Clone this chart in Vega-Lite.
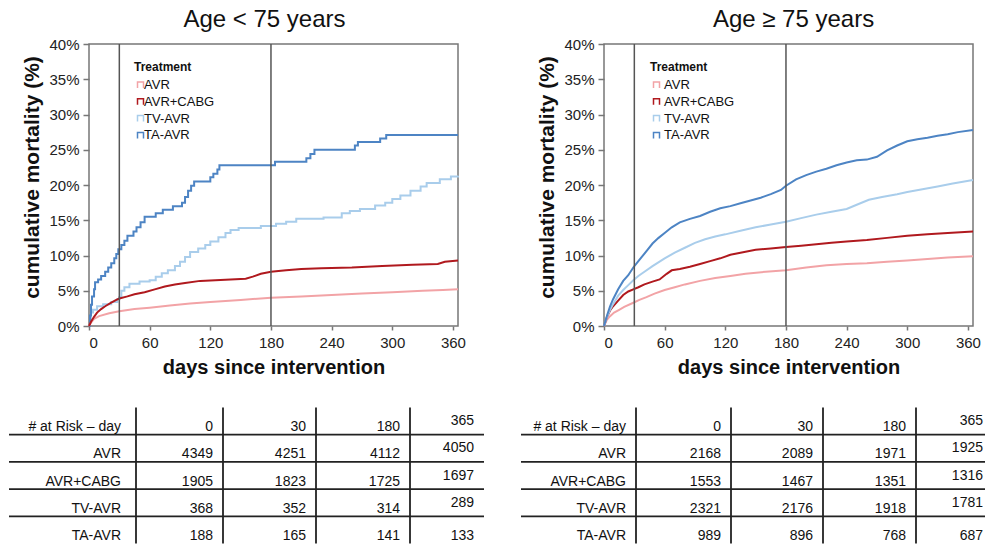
{
"$schema":"https://vega.github.io/schema/vega-lite/v6.json",
"padding":{"left":8,"top":6,"right":0,"bottom":0},
"background":"white",
"config":{
 "font":"Liberation Sans",
 "view":{"stroke":"#777","strokeWidth":1.5},
 "axis":{"grid":false,"domain":false,"labelOverlap":false,"labelFont":"Liberation Sans","labelFontSize":15,"labelColor":"#222","tickColor":"#777","tickWidth":1.5,"titleFont":"Liberation Sans","titleFontWeight":"bold","titleColor":"#111"},
 "title":{"font":"Liberation Sans","fontSize":24,"fontWeight":"normal","color":"#111","offset":5.5},
 "legend":{"labelFont":"Liberation Sans","titleFont":"Liberation Sans"},
 "text":{"font":"Liberation Sans"}
},
"datasets":{
 "refs":[{"day":30},{"day":180}],
 "kmL":[
  {"treatment":"AVR","day":0,"mortality":0},{"treatment":"AVR","day":2,"mortality":0.5},{"treatment":"AVR","day":5,"mortality":1.0},{"treatment":"AVR","day":10,"mortality":1.4},{"treatment":"AVR","day":20,"mortality":1.8},{"treatment":"AVR","day":30,"mortality":2.1},{"treatment":"AVR","day":45,"mortality":2.4},{"treatment":"AVR","day":60,"mortality":2.6},{"treatment":"AVR","day":80,"mortality":2.9},{"treatment":"AVR","day":100,"mortality":3.2},{"treatment":"AVR","day":120,"mortality":3.4},{"treatment":"AVR","day":150,"mortality":3.7},{"treatment":"AVR","day":180,"mortality":4.0},{"treatment":"AVR","day":210,"mortality":4.2},{"treatment":"AVR","day":240,"mortality":4.4},{"treatment":"AVR","day":270,"mortality":4.6},{"treatment":"AVR","day":300,"mortality":4.8},{"treatment":"AVR","day":330,"mortality":5.0},{"treatment":"AVR","day":350,"mortality":5.1},{"treatment":"AVR","day":365,"mortality":5.2},
  {"treatment":"AVR+CABG","day":0,"mortality":0},{"treatment":"AVR+CABG","day":2,"mortality":0.6},{"treatment":"AVR+CABG","day":5,"mortality":1.3},{"treatment":"AVR+CABG","day":8,"mortality":1.9},{"treatment":"AVR+CABG","day":12,"mortality":2.4},{"treatment":"AVR+CABG","day":16,"mortality":2.8},{"treatment":"AVR+CABG","day":22,"mortality":3.3},{"treatment":"AVR+CABG","day":27,"mortality":3.7},{"treatment":"AVR+CABG","day":30,"mortality":3.9},{"treatment":"AVR+CABG","day":38,"mortality":4.2},{"treatment":"AVR+CABG","day":45,"mortality":4.5},{"treatment":"AVR+CABG","day":55,"mortality":4.8},{"treatment":"AVR+CABG","day":65,"mortality":5.2},{"treatment":"AVR+CABG","day":75,"mortality":5.6},{"treatment":"AVR+CABG","day":85,"mortality":5.9},{"treatment":"AVR+CABG","day":95,"mortality":6.1},{"treatment":"AVR+CABG","day":110,"mortality":6.4},{"treatment":"AVR+CABG","day":125,"mortality":6.5},{"treatment":"AVR+CABG","day":140,"mortality":6.6},{"treatment":"AVR+CABG","day":155,"mortality":6.7},{"treatment":"AVR+CABG","day":162,"mortality":7.0},{"treatment":"AVR+CABG","day":170,"mortality":7.4},{"treatment":"AVR+CABG","day":180,"mortality":7.7},{"treatment":"AVR+CABG","day":195,"mortality":7.9},{"treatment":"AVR+CABG","day":210,"mortality":8.1},{"treatment":"AVR+CABG","day":230,"mortality":8.2},{"treatment":"AVR+CABG","day":260,"mortality":8.3},{"treatment":"AVR+CABG","day":290,"mortality":8.5},{"treatment":"AVR+CABG","day":320,"mortality":8.7},{"treatment":"AVR+CABG","day":345,"mortality":8.8},{"treatment":"AVR+CABG","day":352,"mortality":9.1},{"treatment":"AVR+CABG","day":365,"mortality":9.3},
  {"treatment":"TV-AVR","day":0,"mortality":0},{"treatment":"TV-AVR","day":1,"mortality":1.0},{"treatment":"TV-AVR","day":2,"mortality":1.9},{"treatment":"TV-AVR","day":4,"mortality":2.3},{"treatment":"TV-AVR","day":8,"mortality":2.8},{"treatment":"TV-AVR","day":14,"mortality":3.1},{"treatment":"TV-AVR","day":22,"mortality":3.4},{"treatment":"TV-AVR","day":28,"mortality":3.8},{"treatment":"TV-AVR","day":30,"mortality":4.1},{"treatment":"TV-AVR","day":32,"mortality":5.0},{"treatment":"TV-AVR","day":35,"mortality":5.5},{"treatment":"TV-AVR","day":40,"mortality":6.0},{"treatment":"TV-AVR","day":50,"mortality":6.3},{"treatment":"TV-AVR","day":60,"mortality":6.5},{"treatment":"TV-AVR","day":66,"mortality":7.0},{"treatment":"TV-AVR","day":72,"mortality":7.5},{"treatment":"TV-AVR","day":78,"mortality":7.9},{"treatment":"TV-AVR","day":85,"mortality":8.5},{"treatment":"TV-AVR","day":90,"mortality":9.1},{"treatment":"TV-AVR","day":95,"mortality":9.8},{"treatment":"TV-AVR","day":100,"mortality":10.5},{"treatment":"TV-AVR","day":108,"mortality":11.0},{"treatment":"TV-AVR","day":115,"mortality":11.5},{"treatment":"TV-AVR","day":120,"mortality":12.0},{"treatment":"TV-AVR","day":128,"mortality":12.6},{"treatment":"TV-AVR","day":135,"mortality":13.2},{"treatment":"TV-AVR","day":140,"mortality":13.6},{"treatment":"TV-AVR","day":148,"mortality":13.9},{"treatment":"TV-AVR","day":170,"mortality":14.2},{"treatment":"TV-AVR","day":185,"mortality":14.5},{"treatment":"TV-AVR","day":195,"mortality":14.8},{"treatment":"TV-AVR","day":205,"mortality":15.2},{"treatment":"TV-AVR","day":232,"mortality":15.4},{"treatment":"TV-AVR","day":250,"mortality":16.0},{"treatment":"TV-AVR","day":258,"mortality":16.3},{"treatment":"TV-AVR","day":268,"mortality":16.6},{"treatment":"TV-AVR","day":283,"mortality":17.1},{"treatment":"TV-AVR","day":293,"mortality":17.5},{"treatment":"TV-AVR","day":300,"mortality":18.0},{"treatment":"TV-AVR","day":308,"mortality":18.5},{"treatment":"TV-AVR","day":318,"mortality":19.2},{"treatment":"TV-AVR","day":328,"mortality":19.8},{"treatment":"TV-AVR","day":334,"mortality":20.3},{"treatment":"TV-AVR","day":347,"mortality":20.8},{"treatment":"TV-AVR","day":358,"mortality":21.2},{"treatment":"TV-AVR","day":365,"mortality":21.3},
  {"treatment":"TA-AVR","day":0,"mortality":0},{"treatment":"TA-AVR","day":1,"mortality":1.5},{"treatment":"TA-AVR","day":2,"mortality":3.0},{"treatment":"TA-AVR","day":3,"mortality":4.2},{"treatment":"TA-AVR","day":5,"mortality":5.2},{"treatment":"TA-AVR","day":6,"mortality":6.2},{"treatment":"TA-AVR","day":9,"mortality":6.6},{"treatment":"TA-AVR","day":12,"mortality":7.1},{"treatment":"TA-AVR","day":16,"mortality":7.7},{"treatment":"TA-AVR","day":19,"mortality":8.3},{"treatment":"TA-AVR","day":22,"mortality":8.9},{"treatment":"TA-AVR","day":25,"mortality":9.6},{"treatment":"TA-AVR","day":27,"mortality":10.2},{"treatment":"TA-AVR","day":29,"mortality":10.9},{"treatment":"TA-AVR","day":32,"mortality":11.5},{"treatment":"TA-AVR","day":35,"mortality":12.1},{"treatment":"TA-AVR","day":38,"mortality":12.8},{"treatment":"TA-AVR","day":44,"mortality":13.4},{"treatment":"TA-AVR","day":47,"mortality":14.0},{"treatment":"TA-AVR","day":51,"mortality":14.7},{"treatment":"TA-AVR","day":55,"mortality":15.5},{"treatment":"TA-AVR","day":66,"mortality":16.0},{"treatment":"TA-AVR","day":73,"mortality":16.5},{"treatment":"TA-AVR","day":83,"mortality":17.0},{"treatment":"TA-AVR","day":92,"mortality":17.5},{"treatment":"TA-AVR","day":95,"mortality":18.3},{"treatment":"TA-AVR","day":98,"mortality":19.2},{"treatment":"TA-AVR","day":101,"mortality":19.9},{"treatment":"TA-AVR","day":104,"mortality":20.5},{"treatment":"TA-AVR","day":120,"mortality":21.1},{"treatment":"TA-AVR","day":123,"mortality":21.6},{"treatment":"TA-AVR","day":127,"mortality":22.2},{"treatment":"TA-AVR","day":129,"mortality":22.8},{"treatment":"TA-AVR","day":184,"mortality":23.3},{"treatment":"TA-AVR","day":215,"mortality":23.8},{"treatment":"TA-AVR","day":219,"mortality":24.4},{"treatment":"TA-AVR","day":223,"mortality":25.0},{"treatment":"TA-AVR","day":263,"mortality":25.6},{"treatment":"TA-AVR","day":266,"mortality":26.1},{"treatment":"TA-AVR","day":288,"mortality":26.6},{"treatment":"TA-AVR","day":294,"mortality":27.1},{"treatment":"TA-AVR","day":365,"mortality":27.1}
 ],
 "kmR":[
  {"treatment":"AVR","day":0,"mortality":0},{"treatment":"AVR","day":3,"mortality":0.9},{"treatment":"AVR","day":6,"mortality":1.4},{"treatment":"AVR","day":10,"mortality":1.9},{"treatment":"AVR","day":15,"mortality":2.3},{"treatment":"AVR","day":20,"mortality":2.7},{"treatment":"AVR","day":29,"mortality":3.3},{"treatment":"AVR","day":35,"mortality":3.7},{"treatment":"AVR","day":42,"mortality":4.1},{"treatment":"AVR","day":50,"mortality":4.6},{"treatment":"AVR","day":60,"mortality":5.1},{"treatment":"AVR","day":70,"mortality":5.5},{"treatment":"AVR","day":80,"mortality":5.9},{"treatment":"AVR","day":95,"mortality":6.4},{"treatment":"AVR","day":110,"mortality":6.8},{"treatment":"AVR","day":125,"mortality":7.1},{"treatment":"AVR","day":140,"mortality":7.4},{"treatment":"AVR","day":160,"mortality":7.7},{"treatment":"AVR","day":180,"mortality":7.9},{"treatment":"AVR","day":200,"mortality":8.3},{"treatment":"AVR","day":220,"mortality":8.6},{"treatment":"AVR","day":240,"mortality":8.8},{"treatment":"AVR","day":260,"mortality":8.9},{"treatment":"AVR","day":280,"mortality":9.1},{"treatment":"AVR","day":300,"mortality":9.3},{"treatment":"AVR","day":320,"mortality":9.5},{"treatment":"AVR","day":340,"mortality":9.7},{"treatment":"AVR","day":365,"mortality":9.9},
  {"treatment":"AVR+CABG","day":0,"mortality":0},{"treatment":"AVR+CABG","day":3,"mortality":1.3},{"treatment":"AVR+CABG","day":6,"mortality":2.2},{"treatment":"AVR+CABG","day":9,"mortality":2.8},{"treatment":"AVR+CABG","day":14,"mortality":3.6},{"treatment":"AVR+CABG","day":19,"mortality":4.4},{"treatment":"AVR+CABG","day":24,"mortality":4.9},{"treatment":"AVR+CABG","day":29,"mortality":5.2},{"treatment":"AVR+CABG","day":34,"mortality":5.5},{"treatment":"AVR+CABG","day":40,"mortality":5.9},{"treatment":"AVR+CABG","day":48,"mortality":6.3},{"treatment":"AVR+CABG","day":55,"mortality":6.6},{"treatment":"AVR+CABG","day":62,"mortality":7.4},{"treatment":"AVR+CABG","day":67,"mortality":7.9},{"treatment":"AVR+CABG","day":75,"mortality":8.1},{"treatment":"AVR+CABG","day":85,"mortality":8.4},{"treatment":"AVR+CABG","day":95,"mortality":8.8},{"treatment":"AVR+CABG","day":105,"mortality":9.2},{"treatment":"AVR+CABG","day":115,"mortality":9.6},{"treatment":"AVR+CABG","day":125,"mortality":10.1},{"treatment":"AVR+CABG","day":135,"mortality":10.4},{"treatment":"AVR+CABG","day":150,"mortality":10.8},{"treatment":"AVR+CABG","day":165,"mortality":11.0},{"treatment":"AVR+CABG","day":180,"mortality":11.2},{"treatment":"AVR+CABG","day":195,"mortality":11.4},{"treatment":"AVR+CABG","day":210,"mortality":11.6},{"treatment":"AVR+CABG","day":225,"mortality":11.8},{"treatment":"AVR+CABG","day":240,"mortality":12.0},{"treatment":"AVR+CABG","day":260,"mortality":12.2},{"treatment":"AVR+CABG","day":280,"mortality":12.5},{"treatment":"AVR+CABG","day":300,"mortality":12.8},{"treatment":"AVR+CABG","day":320,"mortality":13.0},{"treatment":"AVR+CABG","day":340,"mortality":13.2},{"treatment":"AVR+CABG","day":365,"mortality":13.4},
  {"treatment":"TV-AVR","day":0,"mortality":0},{"treatment":"TV-AVR","day":3,"mortality":1.3},{"treatment":"TV-AVR","day":6,"mortality":2.3},{"treatment":"TV-AVR","day":9,"mortality":3.1},{"treatment":"TV-AVR","day":14,"mortality":4.3},{"treatment":"TV-AVR","day":19,"mortality":5.1},{"treatment":"TV-AVR","day":24,"mortality":5.8},{"treatment":"TV-AVR","day":29,"mortality":6.5},{"treatment":"TV-AVR","day":34,"mortality":7.1},{"treatment":"TV-AVR","day":40,"mortality":7.7},{"treatment":"TV-AVR","day":48,"mortality":8.5},{"treatment":"TV-AVR","day":60,"mortality":9.6},{"treatment":"TV-AVR","day":70,"mortality":10.4},{"treatment":"TV-AVR","day":80,"mortality":11.1},{"treatment":"TV-AVR","day":90,"mortality":11.8},{"treatment":"TV-AVR","day":100,"mortality":12.3},{"treatment":"TV-AVR","day":110,"mortality":12.7},{"treatment":"TV-AVR","day":120,"mortality":13.0},{"treatment":"TV-AVR","day":135,"mortality":13.5},{"treatment":"TV-AVR","day":150,"mortality":14.0},{"treatment":"TV-AVR","day":165,"mortality":14.4},{"treatment":"TV-AVR","day":180,"mortality":14.8},{"treatment":"TV-AVR","day":195,"mortality":15.3},{"treatment":"TV-AVR","day":210,"mortality":15.8},{"treatment":"TV-AVR","day":225,"mortality":16.2},{"treatment":"TV-AVR","day":240,"mortality":16.6},{"treatment":"TV-AVR","day":250,"mortality":17.2},{"treatment":"TV-AVR","day":262,"mortality":17.9},{"treatment":"TV-AVR","day":275,"mortality":18.3},{"treatment":"TV-AVR","day":290,"mortality":18.7},{"treatment":"TV-AVR","day":300,"mortality":19.0},{"treatment":"TV-AVR","day":315,"mortality":19.4},{"treatment":"TV-AVR","day":330,"mortality":19.8},{"treatment":"TV-AVR","day":345,"mortality":20.2},{"treatment":"TV-AVR","day":365,"mortality":20.7},
  {"treatment":"TA-AVR","day":0,"mortality":0},{"treatment":"TA-AVR","day":3,"mortality":1.5},{"treatment":"TA-AVR","day":6,"mortality":2.8},{"treatment":"TA-AVR","day":9,"mortality":3.8},{"treatment":"TA-AVR","day":14,"mortality":5.2},{"treatment":"TA-AVR","day":19,"mortality":6.4},{"treatment":"TA-AVR","day":24,"mortality":7.2},{"treatment":"TA-AVR","day":29,"mortality":8.3},{"treatment":"TA-AVR","day":34,"mortality":9.2},{"treatment":"TA-AVR","day":38,"mortality":9.9},{"treatment":"TA-AVR","day":43,"mortality":10.8},{"treatment":"TA-AVR","day":48,"mortality":11.7},{"treatment":"TA-AVR","day":54,"mortality":12.5},{"treatment":"TA-AVR","day":60,"mortality":13.2},{"treatment":"TA-AVR","day":67,"mortality":14.0},{"treatment":"TA-AVR","day":75,"mortality":14.7},{"treatment":"TA-AVR","day":85,"mortality":15.2},{"treatment":"TA-AVR","day":95,"mortality":15.6},{"treatment":"TA-AVR","day":105,"mortality":16.2},{"treatment":"TA-AVR","day":115,"mortality":16.7},{"treatment":"TA-AVR","day":125,"mortality":17.0},{"treatment":"TA-AVR","day":135,"mortality":17.4},{"treatment":"TA-AVR","day":145,"mortality":17.8},{"treatment":"TA-AVR","day":155,"mortality":18.2},{"treatment":"TA-AVR","day":165,"mortality":18.7},{"treatment":"TA-AVR","day":175,"mortality":19.3},{"treatment":"TA-AVR","day":180,"mortality":19.9},{"treatment":"TA-AVR","day":190,"mortality":20.8},{"treatment":"TA-AVR","day":200,"mortality":21.4},{"treatment":"TA-AVR","day":210,"mortality":21.9},{"treatment":"TA-AVR","day":220,"mortality":22.3},{"treatment":"TA-AVR","day":230,"mortality":22.8},{"treatment":"TA-AVR","day":240,"mortality":23.2},{"treatment":"TA-AVR","day":250,"mortality":23.5},{"treatment":"TA-AVR","day":260,"mortality":23.6},{"treatment":"TA-AVR","day":270,"mortality":24.0},{"treatment":"TA-AVR","day":280,"mortality":24.9},{"treatment":"TA-AVR","day":290,"mortality":25.6},{"treatment":"TA-AVR","day":300,"mortality":26.2},{"treatment":"TA-AVR","day":310,"mortality":26.5},{"treatment":"TA-AVR","day":320,"mortality":26.7},{"treatment":"TA-AVR","day":330,"mortality":27.0},{"treatment":"TA-AVR","day":340,"mortality":27.2},{"treatment":"TA-AVR","day":350,"mortality":27.5},{"treatment":"TA-AVR","day":365,"mortality":27.8}
 ],
 "tabL":[
  {"row":"# at Risk – day","day":0,"value":0},{"row":"# at Risk – day","day":30,"value":30},{"row":"# at Risk – day","day":180,"value":180},{"row":"# at Risk – day","day":365,"value":365},
  {"row":"AVR","day":0,"value":4349},{"row":"AVR","day":30,"value":4251},{"row":"AVR","day":180,"value":4112},{"row":"AVR","day":365,"value":4050},
  {"row":"AVR+CABG","day":0,"value":1905},{"row":"AVR+CABG","day":30,"value":1823},{"row":"AVR+CABG","day":180,"value":1725},{"row":"AVR+CABG","day":365,"value":1697},
  {"row":"TV-AVR","day":0,"value":368},{"row":"TV-AVR","day":30,"value":352},{"row":"TV-AVR","day":180,"value":314},{"row":"TV-AVR","day":365,"value":289},
  {"row":"TA-AVR","day":0,"value":188},{"row":"TA-AVR","day":30,"value":165},{"row":"TA-AVR","day":180,"value":141},{"row":"TA-AVR","day":365,"value":133}
 ],
 "tabR":[
  {"row":"# at Risk – day","day":0,"value":0},{"row":"# at Risk – day","day":30,"value":30},{"row":"# at Risk – day","day":180,"value":180},{"row":"# at Risk – day","day":365,"value":365},
  {"row":"AVR","day":0,"value":2168},{"row":"AVR","day":30,"value":2089},{"row":"AVR","day":180,"value":1971},{"row":"AVR","day":365,"value":1925},
  {"row":"AVR+CABG","day":0,"value":1553},{"row":"AVR+CABG","day":30,"value":1467},{"row":"AVR+CABG","day":180,"value":1351},{"row":"AVR+CABG","day":365,"value":1316},
  {"row":"TV-AVR","day":0,"value":2321},{"row":"TV-AVR","day":30,"value":2176},{"row":"TV-AVR","day":180,"value":1918},{"row":"TV-AVR","day":365,"value":1781},
  {"row":"TA-AVR","day":0,"value":989},{"row":"TA-AVR","day":30,"value":896},{"row":"TA-AVR","day":180,"value":768},{"row":"TA-AVR","day":365,"value":687}
 ]
},
"spacing":35,
"resolve":{"scale":{"color":"independent"},"legend":{"color":"independent"}},
"hconcat":[
 {"spacing":28.5,
  "resolve":{"scale":{"color":"independent"},"legend":{"color":"independent"}},
  "vconcat":[
  {"title":{"text":"Age < 75 years","dx":-9},
   "width":369,"height":282,
   "data":{"name":"kmL"},
   "layer":[
    {"transform":[{"filter":"datum.treatment == 'TV-AVR' || datum.treatment == 'TA-AVR'"}],
     "mark":{"type":"line","interpolate":"step-after","strokeWidth":2},
     "encoding":{
      "x":{"field":"day","type":"quantitative","scale":{"domain":[0,365],"nice":false},"axis":{"values":[0,60,120,180,240,300,360],"title":"days since intervention","titleFontSize":20,"tickSize":4,"labelPadding":5,"titlePadding":7}},
      "y":{"field":"mortality","type":"quantitative","scale":{"domain":[0,40],"nice":false},"axis":{"values":[0,5,10,15,20,25,30,35,40],"labelExpr":"datum.value + '%'","title":"cumulative mortality (%)","titleFontSize":21,"tickSize":6,"labelPadding":4,"titlePadding":6,"titleY":133}},
      "color":{"field":"treatment","type":"nominal","scale":{"domain":["AVR","AVR+CABG","TV-AVR","TA-AVR"],"range":["#f2a3a6","#b0191e","#a9cdeb","#4d84c4"]},
       "legend":{"title":"Treatment","orient":"none","legendX":45,"legendY":17.5,"titleFontSize":12,"titleFontWeight":"bold","titleColor":"#111","labelFontSize":13,"labelColor":"#111","symbolType":"M-1,1V-1H1V1","symbolSize":36,"symbolStrokeWidth":1.5,"symbolFillColor":"transparent","labelOffset":-3,"rowPadding":2.8,"titlePadding":5,"padding":0}}
     }},
    {"transform":[{"filter":"datum.treatment == 'AVR' || datum.treatment == 'AVR+CABG'"}],
     "mark":{"type":"line","interpolate":"linear","strokeWidth":2},
     "encoding":{
      "x":{"field":"day","type":"quantitative","axis":{"values":[0,60,120,180,240,300,360],"title":"days since intervention","titleFontSize":20,"tickSize":4,"labelPadding":5,"titlePadding":7}},
      "y":{"field":"mortality","type":"quantitative","axis":{"values":[0,5,10,15,20,25,30,35,40],"labelExpr":"datum.value + '%'","title":"cumulative mortality (%)","titleFontSize":21,"tickSize":6,"labelPadding":4,"titlePadding":6,"titleY":133}},
      "color":{"field":"treatment","type":"nominal"}
     }},
    {"data":{"name":"refs"},"mark":{"type":"rule","color":"#555","strokeWidth":1.5},"encoding":{"x":{"field":"day","type":"quantitative"}}}
   ]},
  {"width":395,"height":136,
   "view":{"stroke":null},
   "data":{"name":"tabL"},
   "layer":[
    {"transform":[{"filter":"datum.day != 365 || datum.row == 'TA-AVR'"}],
     "mark":{"type":"text","align":"right","baseline":"middle","dx":-10,"dy":6,"fontSize":14,"color":"#111"},
     "encoding":{
      "x":{"field":"day","type":"quantitative","scale":{"domain":[0,30,180,365],"range":[134,227,321,395],"nice":false,"zero":false},"axis":null},
      "y":{"field":"row","type":"nominal","scale":{"domain":["# at Risk – day","AVR","AVR+CABG","TV-AVR","TA-AVR"],"paddingInner":0,"paddingOuter":0},"axis":null},
      "text":{"field":"value","type":"quantitative","format":"d"}}},
    {"transform":[{"filter":"datum.day == 365 && datum.row != 'TA-AVR'"}],
     "mark":{"type":"text","align":"right","baseline":"middle","dx":-10,"dy":0,"fontSize":14,"color":"#111"},
     "encoding":{
      "x":{"field":"day","type":"quantitative"},
      "y":{"field":"row","type":"nominal"},
      "text":{"field":"value","type":"quantitative","format":"d"}}},
    {"transform":[{"filter":"datum.day == 0"}],
     "mark":{"type":"text","align":"right","baseline":"middle","dx":-102,"dy":6,"fontSize":14,"color":"#111"},
     "encoding":{
      "x":{"field":"day","type":"quantitative"},
      "y":{"field":"row","type":"nominal"},
      "text":{"field":"row","type":"nominal"}}},
    {"transform":[{"filter":"datum.day == 0 && datum.row != 'TA-AVR'"}],
     "mark":{"type":"rule","color":"#222","strokeWidth":1.8,"xOffset":-214},
     "encoding":{"x":{"field":"day","type":"quantitative"},"x2":{"datum":365},"y":{"field":"row","type":"nominal","bandPosition":1}}},
    {"transform":[{"filter":"datum.value == datum.day && datum.row != 'AVR' && datum.day < 365"}],
     "mark":{"type":"rule","color":"#222","strokeWidth":1.8},
     "encoding":{"x":{"field":"day","type":"quantitative"}}},
    {"transform":[{"filter":"datum.value == 0 && datum.day == 0"}],
     "mark":{"type":"rule","color":"#222","strokeWidth":1.8,"xOffset":-87},
     "encoding":{"x":{"field":"day","type":"quantitative"}}}
   ]}
 ]},
 {"spacing":28.5,
  "resolve":{"scale":{"color":"independent"},"legend":{"color":"independent"}},
  "vconcat":[
  {"title":{"text":"Age ≥ 75 years","dx":5},
   "width":369,"height":282,
   "data":{"name":"kmR"},
   "layer":[
    {"mark":{"type":"line","interpolate":"linear","strokeWidth":2},
     "encoding":{
      "x":{"field":"day","type":"quantitative","scale":{"domain":[0,365],"nice":false},"axis":{"values":[0,60,120,180,240,300,360],"title":"days since intervention","titleFontSize":20,"tickSize":4,"labelPadding":5,"titlePadding":7}},
      "y":{"field":"mortality","type":"quantitative","scale":{"domain":[0,40],"nice":false},"axis":{"values":[0,5,10,15,20,25,30,35,40],"labelExpr":"datum.value + '%'","title":"cumulative mortality (%)","titleFontSize":21,"tickSize":6,"labelPadding":4,"titlePadding":6,"titleY":133}},
      "color":{"field":"treatment","type":"nominal","scale":{"domain":["AVR","AVR+CABG","TV-AVR","TA-AVR"],"range":["#f2a3a6","#b0191e","#a9cdeb","#4d84c4"]},
       "legend":{"title":"Treatment","orient":"none","legendX":46,"legendY":17.5,"titleFontSize":12,"titleFontWeight":"bold","titleColor":"#111","labelFontSize":13,"labelColor":"#111","symbolType":"M-1,1V-1H1V1","symbolSize":36,"symbolStrokeWidth":1.5,"symbolFillColor":"transparent","labelOffset":1,"rowPadding":2.8,"titlePadding":5,"padding":0}}
     }},
    {"data":{"name":"refs"},"mark":{"type":"rule","color":"#555","strokeWidth":1.5},"encoding":{"x":{"field":"day","type":"quantitative"}}}
   ]},
  {"width":384,"height":136,
   "view":{"stroke":null},
   "data":{"name":"tabR"},
   "layer":[
    {"transform":[{"filter":"datum.day != 365 || datum.row == 'TA-AVR'"}],
     "mark":{"type":"text","align":"right","baseline":"middle","dx":-10,"dy":6,"fontSize":14,"color":"#111"},
     "encoding":{
      "x":{"field":"day","type":"quantitative","scale":{"domain":[0,30,180,365],"range":[127,219,312,389],"nice":false,"zero":false},"axis":null},
      "y":{"field":"row","type":"nominal","scale":{"domain":["# at Risk – day","AVR","AVR+CABG","TV-AVR","TA-AVR"],"paddingInner":0,"paddingOuter":0},"axis":null},
      "text":{"field":"value","type":"quantitative","format":"d"}}},
    {"transform":[{"filter":"datum.day == 365 && datum.row != 'TA-AVR'"}],
     "mark":{"type":"text","align":"right","baseline":"middle","dx":-10,"dy":0,"fontSize":14,"color":"#111"},
     "encoding":{
      "x":{"field":"day","type":"quantitative"},
      "y":{"field":"row","type":"nominal"},
      "text":{"field":"value","type":"quantitative","format":"d"}}},
    {"transform":[{"filter":"datum.day == 0"}],
     "mark":{"type":"text","align":"right","baseline":"middle","dx":-105,"dy":6,"fontSize":14,"color":"#111"},
     "encoding":{
      "x":{"field":"day","type":"quantitative"},
      "y":{"field":"row","type":"nominal"},
      "text":{"field":"row","type":"nominal"}}},
    {"transform":[{"filter":"datum.day == 0 && datum.row != 'TA-AVR'"}],
     "mark":{"type":"rule","color":"#222","strokeWidth":1.8,"xOffset":-210,"x2Offset":-5},
     "encoding":{"x":{"field":"day","type":"quantitative"},"x2":{"datum":365},"y":{"field":"row","type":"nominal","bandPosition":1}}},
    {"transform":[{"filter":"datum.value == datum.day && datum.row != 'AVR' && datum.day < 365"}],
     "mark":{"type":"rule","color":"#222","strokeWidth":1.8},
     "encoding":{"x":{"field":"day","type":"quantitative"}}},
    {"transform":[{"filter":"datum.value == 0 && datum.day == 0"}],
     "mark":{"type":"rule","color":"#222","strokeWidth":1.8,"xOffset":-95},
     "encoding":{"x":{"field":"day","type":"quantitative"}}}
   ]}
 ]}
]
}
